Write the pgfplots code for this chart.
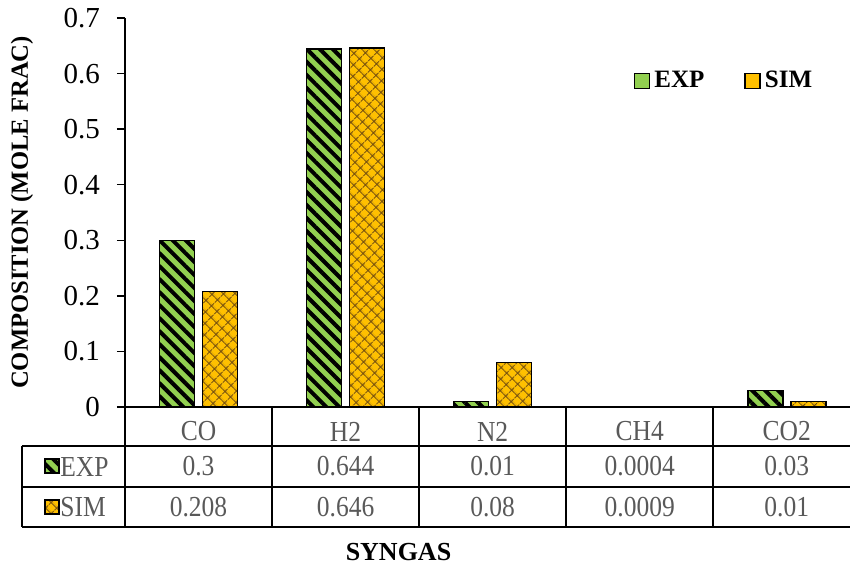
\documentclass[border=0pt]{standalone}
\usepackage{fontspec}
\setmainfont{Liberation Serif}
\newfontfamily\tablefont{Liberation Serif}[FakeStretch=0.88]
\usepackage{pgfplots}
\pgfplotsset{compat=1.18}
\usetikzlibrary{patterns.meta}

\definecolor{expgreen}{HTML}{92D050}
\definecolor{simorange}{HTML}{FFC000}
\definecolor{hatchbrown}{HTML}{6E4A10}
\definecolor{tabgray}{HTML}{595959}

\tikzset{
  exppat/.style={pattern={Lines[angle=-45,distance=4.6pt,line width=2pt]}, pattern color=black},
  simpat/.style={pattern={Hatch[angle=45,distance=4pt,line width=0.6pt]}, pattern color=hatchbrown},
  expbar/.style={fill=expgreen, draw=black, line width=0.75pt,
    postaction={exppat}, postaction={draw=black, line width=0.75pt}},
  simbar/.style={fill=simorange, draw=black, line width=0.75pt,
    postaction={simpat}, postaction={draw=black, line width=0.75pt}},
  tabtext/.style={font=\tablefont\fontsize{14.5}{16}\selectfont, text=tabgray, inner sep=0pt},
  tabline/.style={line width=0.9pt, black},
}

\pgfplotstableread{
x exp sim
0 0.3 0.208
1 0.644 0.646
2 0.01 0.08
3 0.0004 0.0009
4 0.03 0.01
}\syngas

\begin{document}
\begin{tikzpicture}
\begin{axis}[
  width=362.5pt, height=194.5pt, scale only axis,
  ybar, bar width=17.5pt,
  xmin=-0.5, xmax=4.43, ymin=0, ymax=0.7,
  clip=false,
  axis lines*=left, axis line style={-, line width=0.75pt},
  xtick=data, xticklabels={CO,H2,N2,CH4,CO2},
  x tick style={draw=none},
  xticklabel style={font=\tablefont\fontsize{14.5}{16}\selectfont, text=tabgray, anchor=center, yshift=-8.25pt},
  ytick={0,0.1,...,0.7},
  y tick style={line width=0.75pt, black},
  tick align=outside, major tick length=4pt,
  /pgf/number format/assume math mode=true,
  yticklabel style={font=\fontsize{14.5}{16}\selectfont, /pgf/number format/fixed, /pgf/number format/precision=1, xshift=-5pt},
  ylabel={COMPOSITION (MOLE FRAC)},
  ylabel style={font=\bfseries\fontsize{12.3}{14}\selectfont, at={(rel axis cs:0,0.5)}, anchor=center, yshift=51.5pt},
  xlabel={SYNGAS},
  xlabel style={font=\bfseries\fontsize{13}{15}\selectfont, at={(rel axis cs:0,0)}, anchor=center, xshift=136.75pt, yshift=-72.5pt},
  legend columns=2,
  legend style={at={(0.8276,0.838)}, anchor=center, draw=none, fill=none,
    font=\bfseries\fontsize{12.5}{14}\selectfont,
    /tikz/every even column/.append style={column sep=18pt}},
]
% EXP: green fill, then black stripes and outline on top
\addplot[fill=expgreen, draw=none, bar shift=-10.75pt, forget plot] table[x=x, y=exp] {\syngas};
\addplot[exppat, draw=black, line width=0.75pt, bar shift=-10.75pt,
  legend image code/.code={\draw[expbar] (0pt,-3.75pt) rectangle (7.5pt,3.75pt);}]
  table[x=x, y=exp] {\syngas};
\addlegendentry{EXP}
% SIM: orange fill, then brown cross-hatch and outline on top
\addplot[fill=simorange, draw=none, bar shift=10.75pt, forget plot] table[x=x, y=sim] {\syngas};
\addplot[simpat, draw=black, line width=0.75pt, bar shift=10.75pt,
  legend image code/.code={\draw[simbar] (0pt,-3.75pt) rectangle (7.5pt,3.75pt);}]
  table[x=x, y=sim] {\syngas};
\addlegendentry{SIM}

% data table under the plot
\draw[tabline] ([xshift=-51.5pt,yshift=-19.5pt]rel axis cs:0,0) -- ([yshift=-19.5pt]rel axis cs:1,0);
\draw[tabline] ([xshift=-51.5pt,yshift=-40pt]rel axis cs:0,0) -- ([yshift=-40pt]rel axis cs:1,0);
\draw[tabline] ([xshift=-51.5pt,yshift=-60pt]rel axis cs:0,0) -- ([yshift=-60pt]rel axis cs:1,0);
\draw[tabline] ([xshift=-51.5pt,yshift=-19.5pt]rel axis cs:0,0) -- ([xshift=-51.5pt,yshift=-60pt]rel axis cs:0,0);
\draw[tabline] (axis cs:-0.5,0) -- ([yshift=-60pt]axis cs:-0.5,0);
\draw[tabline] (axis cs:0.5,0) -- ([yshift=-60pt]axis cs:0.5,0);
\draw[tabline] (axis cs:1.5,0) -- ([yshift=-60pt]axis cs:1.5,0);
\draw[tabline] (axis cs:2.5,0) -- ([yshift=-60pt]axis cs:2.5,0);
\draw[tabline] (axis cs:3.5,0) -- ([yshift=-60pt]axis cs:3.5,0);

% row keys
\draw[expbar] ([xshift=-40pt,yshift=-26pt]rel axis cs:0,0) rectangle ++(7pt,-7pt);
\node[tabtext, anchor=west] at ([xshift=-32.5pt,yshift=-29.75pt]rel axis cs:0,0) {EXP};
\draw[simbar] ([xshift=-40pt,yshift=-46.5pt]rel axis cs:0,0) rectangle ++(7pt,-7pt);
\node[tabtext, anchor=west] at ([xshift=-32.5pt,yshift=-50pt]rel axis cs:0,0) {SIM};

% row values
\node[tabtext] at ([yshift=-29.75pt]axis cs:0,0) {0.3};
\node[tabtext] at ([yshift=-29.75pt]axis cs:1,0) {0.644};
\node[tabtext] at ([yshift=-29.75pt]axis cs:2,0) {0.01};
\node[tabtext] at ([yshift=-29.75pt]axis cs:3,0) {0.0004};
\node[tabtext] at ([yshift=-29.75pt]axis cs:4,0) {0.03};
\node[tabtext] at ([yshift=-50pt]axis cs:0,0) {0.208};
\node[tabtext] at ([yshift=-50pt]axis cs:1,0) {0.646};
\node[tabtext] at ([yshift=-50pt]axis cs:2,0) {0.08};
\node[tabtext] at ([yshift=-50pt]axis cs:3,0) {0.0009};
\node[tabtext] at ([yshift=-50pt]axis cs:4,0) {0.01};
\end{axis}
\pgfresetboundingbox
\path[use as bounding box] (-62.5pt,-84pt) rectangle (362.5pt,203.5pt);
\end{tikzpicture}
\end{document}
